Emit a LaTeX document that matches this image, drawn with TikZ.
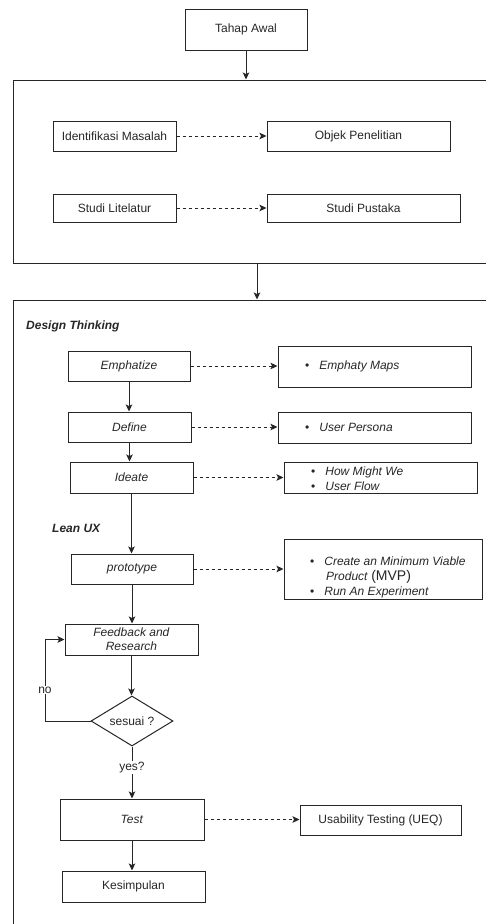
\documentclass[tikz,border=0pt]{standalone}
\usepackage{fontspec}
\setmainfont{Liberation Sans}
\usetikzlibrary{shapes.geometric,arrows.meta}
\begin{document}
\begin{tikzpicture}[x=1pt,y=-1pt,
  every node/.style={font=\fontsize{12}{15}\selectfont, text=black!85},
  box/.style={draw=black!85, line width=1pt, inner sep=0pt, align=center},
  lbl/.style={inner sep=0pt, anchor=west, align=left},
  arr/.style={draw=black!85, line width=1pt, -{Stealth[length=7pt,width=6.5pt,inset=1.5pt]}},
  darr/.style={arr, dash pattern=on 3pt off 3pt}]
\useasboundingbox (0,0) rectangle (486,924);
\clip (0,0) rectangle (486,924);
% containers
\node[box, minimum width=488pt, minimum height=183pt] (c1) at (257,171.5) {};
\node[box, minimum width=488pt, minimum height=640pt] (c2) at (257,620) {};
% top
\node[box, minimum width=122pt, minimum height=41pt] (tahap) at (246,29.5) {Tahap Awal};
\node[box, minimum width=123pt, minimum height=30pt] (idm) at (114.5,136) {Identifikasi Masalah};
\node[box, minimum width=183pt, minimum height=30pt] (obj) at (358.5,136) {Objek Penelitian};
\node[box, minimum width=123pt, minimum height=28pt] (stl) at (114.5,208) {Studi Litelatur};
\node[box, minimum width=193pt, minimum height=28pt] (stp) at (363.5,208) {Studi Pustaka};
% design thinking
\node[lbl] (dt) at (26,326) {\textbf{\textit{Design Thinking}}};
\node[box, minimum width=122pt, minimum height=30pt] (emp) at (129,366) {\textit{Emphatize}};
\node[box, minimum width=193pt, minimum height=41pt] (empm) at (374.5,366.5) {};
\node[lbl] (empmt) at (305,366.5) {\textbullet\hspace{10pt}\textit{Emphaty Maps}};
\node[box, minimum width=123pt, minimum height=30pt] (def) at (129.5,427) {\textit{Define}};
\node[box, minimum width=193pt, minimum height=31pt] (up) at (374.5,427.5) {};
\node[lbl] (upt) at (305,427.5) {\textbullet\hspace{10pt}\textit{User Persona}};
\node[box, minimum width=123pt, minimum height=31pt] (ide) at (131.5,477.5) {\textit{Ideate}};
\node[box, minimum width=193pt, minimum height=31pt] (hmw) at (380.5,477.5) {};
\node[lbl] (hmwt) at (311,478.5) {\textbullet\hspace{10pt}\textit{How Might We}\\[-0.5pt]\textbullet\hspace{10pt}\textit{User Flow}};
% lean ux
\node[lbl] (lux) at (52,528) {\textbf{\textit{Lean UX}}};
\node[box, minimum width=122pt, minimum height=30pt] (proto) at (132,569) {\textit{prototype}};
\node[box, minimum width=198pt, minimum height=60pt] (mvp) at (383,569) {};
\node[lbl] (mvpt) at (310,577) {\textbullet\hspace{10pt}\textit{Create an Minimum Viable}\\
  \hspace{16pt}\textit{Product} {\fontsize{14}{15}\selectfont(MVP)}\\
  \textbullet\hspace{10pt}\textit{Run An Experiment}};
\node[box, minimum width=133pt, minimum height=31pt] (fb) at (131.5,639.5) {\textit{Feedback and}\\[-1pt]\textit{Research}};
\node[box, diamond, minimum width=82pt, minimum height=50pt, aspect=1.64] (dia) at (132,721) {sesuai ?};
\node[box, minimum width=144pt, minimum height=41pt] (test) at (132,819.5) {\textit{Test}};
\node[box, minimum width=161pt, minimum height=30pt] (uts) at (380.5,820) {Usability Testing (UEQ)};
\node[box, minimum width=143pt, minimum height=31pt] (kes) at (133.5,886.5) {Kesimpulan};
% connectors
\draw[arr] (tahap.south) -- (tahap.south |- c1.north);
\draw[arr] (c1.south) -- (c2.north);
\draw[darr] (idm.east) -- (obj.west);
\draw[darr] (stl.east) -- (stp.west);
\draw[darr] (emp.east) -- (emp.east -| empm.west);
\draw[darr] (def.east) -- (def.east -| up.west);
\draw[darr] (ide.east) -- (ide.east -| hmw.west);
\draw[darr] (proto.east) -- (proto.east -| mvp.west);
\draw[darr] (test.east) -- (test.east -| uts.west);
\draw[arr] (emp.south) -- (emp.south |- def.north);
\draw[arr] (def.south) -- (def.south |- ide.north);
\draw[arr] (ide.south) -- (ide.south |- proto.north);
\draw[arr] (proto.south) -- (proto.south |- fb.north);
\draw[arr] (fb.south) -- (fb.south |- dia.north);
\coordinate (lp) at (45,721);
\draw[arr] (dia.west) -- (lp) |- node[pos=0.19, fill=white, inner sep=1pt] (no) {no} (fb.west);
\draw[arr] (dia.south) -- (dia.south |- test.north) node[pos=0.4, fill=white, inner sep=1pt] (yes) {yes?};
\draw[arr] (test.south) -- (test.south |- kes.north);
\end{tikzpicture}
\end{document}
